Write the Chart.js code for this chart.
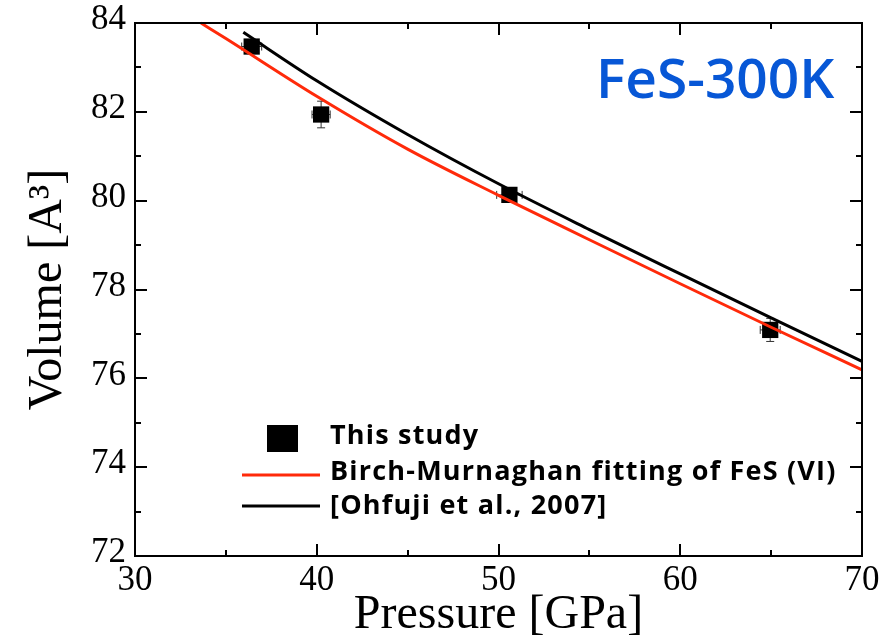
<!DOCTYPE html>
<html>
<head>
<meta charset="utf-8">
<script src="https://cdn.jsdelivr.net/npm/chart.js@4.4.1/dist/chart.umd.min.js"></script>
<style>
  html, body { margin: 0; padding: 0; background: #ffffff; }
  #wrap { width: 891px; height: 644px; }
</style>
</head>
<body>
<div id="wrap"><canvas id="eos" width="891" height="644"></canvas></div>
<script>
// Measured unit-cell volumes of FeS at 300 K
const pressureGPa = [36.42, 40.24, 50.6, 64.95];
const volumeA3 = [83.47, 81.94, 80.13, 77.09];
const pressureErr = [0.55, 0.5, 0.7, 0.55];
const volumeErr = [0.12, 0.3, 0.1, 0.26];

// Birch-Murnaghan fit of FeS (VI)
const bmFitP = [33.63, 35, 40, 45, 50, 55, 60, 65, 70];
const bmFitV = [84.0, 83.65, 82.35, 81.16, 80.12, 79.12, 78.13, 77.15, 76.19];

// Ohfuji et al. (2007) compression curve
const ohfujiP = [35.96, 40, 45, 50, 55, 60, 65, 70];
const ohfujiV = [83.79, 82.7, 81.49, 80.38, 79.35, 78.35, 77.36, 76.38];

// Axis ticks
const xTicks = [30, 40, 50, 60, 70];
const yTicks = [72, 74, 76, 78, 80, 82, 84];

const labels = {
  study: 'This study',
  bm: 'Birch-Murnaghan fitting of FeS (VI)',
  ohfuji: '[Ohfuji et al., 2007]',
  panel: 'FeS-300K',
  xTitle: 'Pressure [GPa]',
  yTitle: 'Volume [A\u00B3]'
};

const RED = '#ff2a0a';
const BLUE = '#0757d6';
const SERIF = '"Liberation Serif", "DejaVu Serif", serif';
const SANS = '"Open Sans", "Noto Sans", sans-serif';

const toXY = (xs, ys) => xs.map((x, i) => ({ x: x, y: ys[i] }));

// Error bars behind the square markers
const errorBars = {
  id: 'errorBars',
  beforeDatasetsDraw(chart) {
    const { ctx, scales: { x, y } } = chart;
    ctx.save();
    ctx.strokeStyle = '#333333';
    ctx.lineWidth = 1;
    const cap = 4;
    pressureGPa.forEach((p, i) => {
      const v = volumeA3[i];
      const px = x.getPixelForValue(p), py = y.getPixelForValue(v);
      const x0 = x.getPixelForValue(p - pressureErr[i]), x1 = x.getPixelForValue(p + pressureErr[i]);
      const y0 = y.getPixelForValue(v - volumeErr[i]), y1 = y.getPixelForValue(v + volumeErr[i]);
      ctx.beginPath();
      ctx.moveTo(x0, py); ctx.lineTo(x1, py);
      ctx.moveTo(x0, py - cap); ctx.lineTo(x0, py + cap);
      ctx.moveTo(x1, py - cap); ctx.lineTo(x1, py + cap);
      ctx.moveTo(px, y0); ctx.lineTo(px, y1);
      ctx.moveTo(px - cap, y0); ctx.lineTo(px + cap, y0);
      ctx.moveTo(px - cap, y1); ctx.lineTo(px + cap, y1);
      ctx.stroke();
    });
    ctx.restore();
  }
};

// Closed frame with inward major and minor ticks on all four sides
const frameTicks = {
  id: 'frameTicks',
  afterDraw(chart) {
    const { ctx, chartArea: a, scales: { x, y } } = chart;
    ctx.save();
    ctx.strokeStyle = '#000000';
    ctx.lineWidth = 2;
    ctx.strokeRect(a.left, a.top, a.right - a.left, a.bottom - a.top);
    const major = 12, minor = 6;
    ctx.beginPath();
    for (let v = x.min; v <= x.max + 1e-9; v += 5) {
      const len = (Math.round(v) % 10 === 0) ? major : minor;
      const px = Math.round(x.getPixelForValue(v));
      ctx.moveTo(px, a.bottom); ctx.lineTo(px, a.bottom - len);
      ctx.moveTo(px, a.top); ctx.lineTo(px, a.top + len);
    }
    for (let v = y.min; v <= y.max + 1e-9; v += 1) {
      const len = (Math.round(v) % 2 === 0) ? major : minor;
      const py = Math.round(y.getPixelForValue(v));
      ctx.moveTo(a.left, py); ctx.lineTo(a.left + len, py);
      ctx.moveTo(a.right, py); ctx.lineTo(a.right - len, py);
    }
    ctx.stroke();
    ctx.restore();
  }
};

// Legend and panel label drawn inside the plot area
const annotations = {
  id: 'annotations',
  afterDraw(chart) {
    const { ctx } = chart;
    const ds = chart.data.datasets;
    ctx.save();
    ctx.textBaseline = 'middle';
    ctx.textAlign = 'left';

    ctx.fillStyle = BLUE;
    ctx.font = '600 55px ' + SANS;
    ctx.fillText(labels.panel, 596, 82);

    ctx.font = '700 27px ' + SANS;
    if ('letterSpacing' in ctx) ctx.letterSpacing = '1.2px';
    ctx.fillStyle = '#000000';
    // markers
    ctx.fillRect(267, 425, 31, 27);
    ctx.lineWidth = 3;
    ctx.strokeStyle = ds[1].borderColor;
    ctx.beginPath(); ctx.moveTo(242, 475); ctx.lineTo(320, 475); ctx.stroke();
    ctx.strokeStyle = ds[2].borderColor;
    ctx.beginPath(); ctx.moveTo(242, 506); ctx.lineTo(320, 506); ctx.stroke();
    // texts
    ctx.fillText(ds[0].label, 330, 436);
    ctx.fillText(ds[1].label, 330, 472);
    ctx.fillText(ds[2].label, 330, 506);
    ctx.restore();
  }
};

new Chart(document.getElementById('eos'), {
  type: 'scatter',
  data: {
    datasets: [
      {
        label: labels.study,
        data: toXY(pressureGPa, volumeA3),
        pointStyle: 'rect',
        pointRadius: 11.5,
        pointHoverRadius: 11.5,
        backgroundColor: '#000000',
        borderColor: '#000000',
        borderWidth: 0,
        showLine: false,
        order: 3
      },
      {
        label: labels.bm,
        data: toXY(bmFitP, bmFitV),
        showLine: true,
        borderColor: RED,
        borderWidth: 3,
        pointRadius: 0,
        cubicInterpolationMode: 'monotone',
        order: 2
      },
      {
        label: labels.ohfuji,
        data: toXY(ohfujiP, ohfujiV),
        showLine: true,
        borderColor: '#000000',
        borderWidth: 3,
        pointRadius: 0,
        cubicInterpolationMode: 'monotone',
        order: 1
      }
    ]
  },
  options: {
    responsive: false,
    animation: false,
    clip: false,
    layout: { padding: { top: 23, right: 29, left: 0, bottom: 0 } },
    plugins: { legend: { display: false }, tooltip: { enabled: false } },
    scales: {
      x: {
        type: 'linear',
        min: 30, max: 70,
        afterBuildTicks: (s) => { s.ticks = xTicks.map(v => ({ value: v })); },
        afterFit: (s) => { s.height = 88; s.paddingLeft = 0; s.paddingRight = 0; },
        grid: { display: false, drawTicks: false },
        border: { display: false },
        ticks: {
          padding: 7,
          color: '#000000',
          font: { family: SERIF, size: 35, lineHeight: 1 },
          maxRotation: 0
        },
        title: {
          display: true,
          text: labels.xTitle,
          color: '#000000',
          font: { family: SERIF, size: 48, lineHeight: 1 },
          padding: { top: 0, bottom: 5 }
        }
      },
      y: {
        type: 'linear',
        min: 72, max: 84,
        afterBuildTicks: (s) => { s.ticks = yTicks.map(v => ({ value: v })); },
        afterFit: (s) => { s.width = 135; s.paddingTop = 0; s.paddingBottom = 0; },
        grid: { display: false, drawTicks: false },
        border: { display: false },
        ticks: {
          padding: 9,
          labelOffset: -3,
          color: '#000000',
          font: { family: SERIF, size: 35, lineHeight: 1 }
        },
        title: {
          display: true,
          text: labels.yTitle,
          color: '#000000',
          font: { family: SERIF, size: 48, lineHeight: 1 },
          padding: { top: 24, bottom: 0 }
        }
      }
    }
  },
  plugins: [errorBars, frameTicks, annotations]
});
</script>
</body>
</html>
